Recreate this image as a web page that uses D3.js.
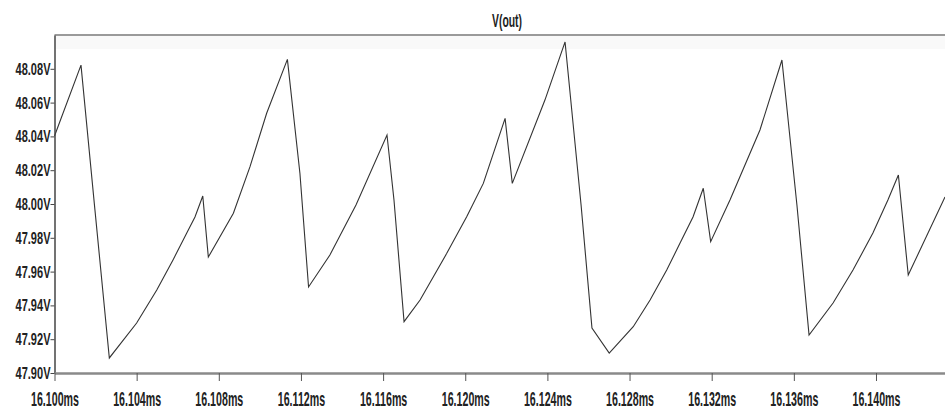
<!DOCTYPE html>
<html>
<head>
<meta charset="utf-8">
<script src="https://cdn.jsdelivr.net/npm/d3@7/dist/d3.min.js"></script>
<style>
  body { margin: 0; background: #fff; }
  .lbl { font-family: "Liberation Sans", Arial, sans-serif; font-weight: bold; fill: #222; }
</style>
</head>
<body>
<div id="chart"></div>
<script>
// V(out) transient, time in ms and voltage in V
var times = [16.10000, 16.10129, 16.10197, 16.10267, 16.10400, 16.10498, 16.10577, 16.10644,
             16.10684, 16.10722, 16.10749, 16.10871, 16.10952, 16.11033, 16.11134, 16.11195,
             16.11237, 16.11341, 16.11468, 16.11619, 16.11653, 16.11702, 16.11780, 16.11910,
             16.12007, 16.12088, 16.12194, 16.12229, 16.12388, 16.12486, 16.12564, 16.12617,
             16.12701, 16.12818, 16.12900, 16.12981, 16.13046, 16.13109, 16.13159, 16.13195,
             16.13289, 16.13435, 16.13542, 16.13615, 16.13674, 16.13791, 16.13888, 16.13985,
             16.14058, 16.14109, 16.14157, 16.14336];
var volts = [48.0402, 48.0822, 47.9964, 47.9089, 47.9296, 47.9491, 47.9669, 47.9828,
             47.9923, 48.0047, 47.9686, 47.9945, 48.0221, 48.0537, 48.0856, 48.0182,
             47.9509, 47.9698, 47.9994, 48.0408, 48.0024, 47.9304, 47.9432, 47.9708,
             47.9925, 48.0122, 48.0507, 48.0122, 48.0615, 48.0959, 47.9994, 47.9266,
             47.9118, 47.9274, 47.9432, 47.9609, 47.9769, 47.9923, 48.0093, 47.9777,
             48.0024, 48.0438, 48.0852, 47.9994, 47.9225, 47.9414, 47.9609, 47.9828,
             48.0024, 48.0172, 47.9580, 48.0041];
var yTicks = [47.90, 47.92, 47.94, 47.96, 47.98, 48.00, 48.02, 48.04, 48.06, 48.08];
var xTicks = [16.100, 16.104, 16.108, 16.112, 16.116, 16.120, 16.124, 16.128, 16.132, 16.136, 16.140];

var width = 945, height = 418;
var mLeft = 54.5, mRight = 945, mTop = 35, mBottom = 373;

var svg = d3.select("#chart").append("svg")
    .attr("width", width)
    .attr("height", height);

var x = d3.scaleLinear().domain([16.100, 16.14336]).range([mLeft, mRight]);
var y = d3.scaleLinear().domain([47.90, 48.10]).range([mBottom, mTop]);

// frame: faint band below top line
svg.append("rect").attr("x", mLeft).attr("y", mTop).attr("width", mRight - mLeft).attr("height", 14)
    .attr("fill", "#f9f9f9");
svg.append("line").attr("x1", mLeft).attr("x2", mRight).attr("y1", mTop).attr("y2", mTop)
    .attr("stroke", "#9a9a9a").attr("stroke-width", 2);

// trace
var line = d3.line()
    .x(function (d, i) { return x(times[i]); })
    .y(function (d) { return y(d); });
svg.append("path")
    .datum(volts)
    .attr("d", line)
    .attr("fill", "none")
    .attr("stroke", "#333")
    .attr("stroke-width", 1.1);

// y axis
var yAxis = svg.append("g")
    .attr("transform", "translate(" + mLeft + ",0)")
    .call(d3.axisLeft(y).tickValues(yTicks).tickSize(4).tickSizeOuter(0).tickFormat(function (d) { return d.toFixed(2) + "V"; }));
yAxis.select(".domain").attr("stroke", "#444").attr("stroke-width", 1.5);
yAxis.selectAll(".tick line").attr("stroke", "#444");
yAxis.selectAll(".tick text")
    .attr("class", "lbl")
    .attr("x", 0).attr("dy", null)
    .attr("text-anchor", "end")
    .style("font-size", "13px")
    .attr("transform", "translate(-4,5.5) scale(0.85,1.2)");

// x axis
var xAxis = svg.append("g")
    .attr("transform", "translate(0," + mBottom + ")")
    .call(d3.axisBottom(x).tickValues(xTicks).tickSize(8).tickSizeOuter(0).tickFormat(function (d) { return d.toFixed(3) + "ms"; }));
xAxis.select(".domain").attr("stroke", "#8a8a8a").attr("stroke-width", 2.5);
xAxis.selectAll(".tick line").attr("stroke", "#555");
xAxis.selectAll(".tick text")
    .attr("class", "lbl")
    .attr("y", 0).attr("dy", null)
    .style("font-size", "13px")
    .attr("transform", "translate(0,33) scale(0.82,1.5)");

// title
svg.append("text")
    .attr("class", "lbl")
    .attr("text-anchor", "middle")
    .style("font-size", "13px")
    .attr("transform", "translate(507,27) scale(0.8,1.4)")
    .text("V(out)");
</script>
</body>
</html>
